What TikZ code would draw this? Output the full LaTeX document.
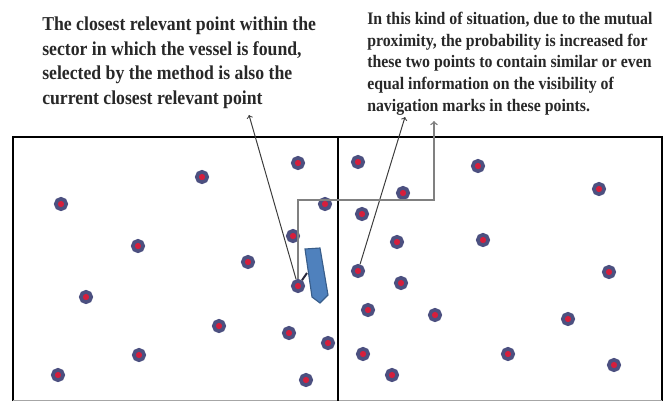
\documentclass[tikz,border=0pt]{standalone}
\usepackage{fontspec}
\newfontfamily\notefont[FakeStretch=0.9]{Liberation Serif}
\definecolor{spotred}{RGB}{214,30,60}
\definecolor{spotring}{RGB}{76,80,128}
\definecolor{notegray}{RGB}{40,40,40}
\definecolor{linegray}{RGB}{60,60,60}
\definecolor{hullblue}{RGB}{79,129,189}
\definecolor{hulledge}{RGB}{56,93,138}
\definecolor{tiedark}{RGB}{40,40,60}
\begin{document}
\begin{tikzpicture}[x=0.025cm, y=-0.025cm]
        \tikzstyle{spot} = [circle, fill=spotred, draw=spotring, line width=2.6pt, minimum size=7.4pt, inner sep=0pt]
        \tikzstyle{frame} = [line width=2.1pt, black]
        \tikzstyle{note} = [anchor=north west, inner sep=0pt, align=left, text=notegray]
        \tikzstyle{pointer} = [->, >=to, line width=0.7pt, linegray]
        \useasboundingbox (0,0) rectangle (671,402);
        % the two sectors
        \draw[frame] (13,401) |- (662,137) -- (662,401);
        \draw[line width=0.8pt, gray!70] (13,400.5) -- (662,400.5);
        \draw[frame] (338,137) -- (338,401);
        % texts
        \node[note, font=\notefont\bfseries\fontsize{14}{17.4}\selectfont] (left) at (42,17)
          {The closest relevant  point  within  the\\
           sector in which  the vessel is found,\\
           selected by  the method  is also the\\
           current closest relevant  point};
        \node[note, font=\notefont\bfseries\fontsize{12.5}{15.4}\selectfont] (right) at (367,12)
          {In  this kind of situation, due to the mutual\\
           proximity,  the probability  is increased  for\\
           these two  points  to  contain  similar or even\\
           equal  information  on the visibility of\\
           navigation  marks in these points.};
        % relevant points
        \node[spot] (A) at (298,286) {};
        \node[spot] (B) at (358,271) {};
        \foreach \x/\y [count=\i] in {298/163, 202/177, 61/204, 325/204, 293/236, 138/246, 248/262,
            86/297, 219/326, 289/333, 328/343, 139/355, 58/375, 306/380,
            358/162, 478/166, 599/189, 403/193, 362/214, 397/242, 483/240, 609/272,
            401/283, 368/310, 435/315, 568/319, 363/354, 508/354, 614/365, 392/375}
          \node[spot] (s\i) at (\x,\y) {};
        % vessel
        \draw[fill=hullblue, draw=hulledge, line width=0.8pt]
          (305,249) -- (320,248) -- (328,295) -- (320,303) -- (312,297) -- cycle;
        \coordinate (hull) at (307,273);
        \draw[line width=1.4pt, tiedark] (A) -- (hull);
        % arrows to the texts
        \coordinate (t1) at (249,115);
        \coordinate (t2) at (405,117);
        \coordinate (t3) at (434,121);
        \draw[pointer] (A) -- (t1);
        \draw[pointer] (B) -- (t2);
        \draw[pointer, gray, line width=1pt] (A.north) -- (298,200) -| (t3);
      \end{tikzpicture}
\end{document}
